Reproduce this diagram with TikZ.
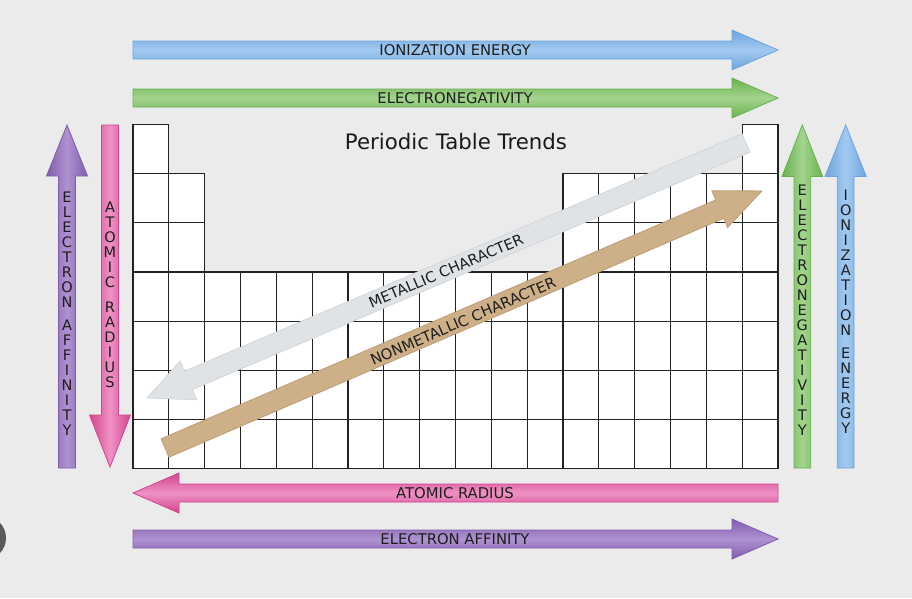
\documentclass[tikz,border=0pt]{standalone}
\usepackage{fontspec}
\setmainfont{DejaVu Sans}
\definecolor{bg}{HTML}{EBEBEB}
\definecolor{gridc}{HTML}{222222}
\definecolor{txt}{HTML}{1E1E1E}
\definecolor{bluelt}{HTML}{A2CAF0}
\definecolor{bluedk}{HTML}{6CA4DC}
\definecolor{greenlt}{HTML}{A4D48E}
\definecolor{greendk}{HTML}{68B24E}
\definecolor{pinklt}{HTML}{EE92C4}
\definecolor{pinkdk}{HTML}{D2448F}
\definecolor{purplt}{HTML}{AE92D0}
\definecolor{purpdk}{HTML}{815DAE}
\definecolor{metal}{HTML}{E0E3E6}
\definecolor{metaldk}{HTML}{D2D5D9}
\definecolor{tan}{HTML}{CDAF88}
\definecolor{tandk}{HTML}{BC9D74}
\begin{document}
\begin{tikzpicture}[x=1pt,y=-1pt,
  cell/.style={draw=gridc, fill=white, line width=1.1pt},
  lbl/.style={font=\fontsize{14.8}{17}\selectfont, text=txt, inner sep=0pt},
  vlbl/.style={font=\fontsize{14.5}{15}\selectfont, text=txt, inner sep=0pt, align=center, anchor=north},
  arr/.style={line width=0.8pt, line join=miter}]
\fill[bg] (0,0) rectangle (912,598);
\useasboundingbox (0,0) rectangle (912,598);
\fill[black!65] (-16,538) circle (22);
% grid
\def\cw{35.833}\def\rh{49.1}
\foreach \c in {0,...,17} \foreach \r in {3,...,6}
  \draw[cell] ({133+\cw*\c},{124.7+\rh*\r}) rectangle ++(\cw,\rh);
\foreach \c in {0,1,12,13,14,15,16,17} \foreach \r in {1,2}
  \draw[cell] ({133+\cw*\c},{124.7+\rh*\r}) rectangle ++(\cw,\rh);
\foreach \c in {0,17}
  \draw[cell] ({133+\cw*\c},124.7) rectangle ++(\cw,\rh);
% title
\node[font=\fontsize{21.3}{24}\selectfont, text=black!90, anchor=base, inner sep=0pt] (title) at (456,149) {Periodic Table Trends};
% horizontal arrows
\path[arr, draw=bluedk, top color=bluedk, bottom color=bluedk, middle color=bluelt]
  (133,41) -- (732,41) -- (732,30) -- (778,50) -- (732,70) -- (732,59) -- (133,59) -- cycle;
\node[lbl] (ie) at (455,50) {IONIZATION ENERGY};
\path[arr, draw=greendk, top color=greendk, bottom color=greendk, middle color=greenlt]
  (133,89) -- (732,89) -- (732,78) -- (778,98) -- (732,118) -- (732,107) -- (133,107) -- cycle;
\node[lbl] (en) at (455,98) {ELECTRONEGATIVITY};
\path[arr, draw=pinkdk, top color=pinkdk, bottom color=pinkdk, middle color=pinklt]
  (778,484) -- (179,484) -- (179,473) -- (133,493) -- (179,513) -- (179,502) -- (778,502) -- cycle;
\node[lbl] (ar) at (455,493) {ATOMIC RADIUS};
\path[arr, draw=purpdk, top color=purpdk, bottom color=purpdk, middle color=purplt]
  (133,530) -- (732,530) -- (732,519) -- (778,539) -- (732,559) -- (732,548) -- (133,548) -- cycle;
\node[lbl] (ea) at (455,539) {ELECTRON AFFINITY};
% vertical arrows
\path[arr, draw=purpdk, left color=purpdk, right color=purpdk, middle color=purplt]
  (58.5,468) -- (58.5,176) -- (46.5,176) -- (67,125) -- (87.5,176) -- (75.5,176) -- (75.5,468) -- cycle;
\node[vlbl] (vea) at (67,191.5) {E\\L\\E\\C\\T\\R\\O\\N\\[8pt]A\\F\\F\\I\\N\\I\\T\\Y};
\path[arr, draw=pinkdk, left color=pinkdk, right color=pinkdk, middle color=pinklt]
  (101.5,125) -- (101.5,415) -- (89.5,415) -- (110,467) -- (130.5,415) -- (118.5,415) -- (118.5,125) -- cycle;
\node[vlbl] (var) at (110,201.5) {A\\T\\O\\M\\I\\C\\[10pt]R\\A\\D\\I\\U\\S};
\path[arr, draw=greendk, left color=greendk, right color=greendk, middle color=greenlt]
  (794,468) -- (794,176.5) -- (782,176.5) -- (802.3,125) -- (822.7,176.5) -- (810.7,176.5) -- (810.7,468) -- cycle;
\node[vlbl] (ven) at (802.3,185) {E\\L\\E\\C\\T\\R\\O\\N\\E\\G\\A\\T\\I\\V\\I\\T\\Y};
\path[arr, draw=bluedk, left color=bluedk, right color=bluedk, middle color=bluelt]
  (837.3,468) -- (837.3,176.5) -- (825,176.5) -- (845.7,125) -- (866.3,176.5) -- (854,176.5) -- (854,468) -- cycle;
\node[vlbl] (vie) at (845.7,190) {I\\O\\N\\I\\Z\\A\\T\\I\\O\\N\\[8pt]E\\N\\E\\R\\G\\Y};
% diagonal arrows
\begin{scope}[shift={(746,143)}, rotate=203.06]
\path[arr, draw=metaldk, fill=metal]
  (0,-10) -- (606,-10) -- (606,-21) -- (651,0) -- (606,21) -- (606,10) -- (0,10) -- cycle;
\end{scope}
\node[lbl, rotate=23.06] (mc) at (446,271) {METALLIC CHARACTER};
\begin{scope}[shift={(165,448)}, rotate=23.3]
\path[arr, draw=tandk, fill=tan]
  (0,-10) -- (604,-10) -- (604,-20) -- (650,0) -- (604,20) -- (604,10) -- (0,10) -- cycle;
\end{scope}
\node[lbl, rotate=23.3] (nc) at (463,321) {NONMETALLIC CHARACTER};
\end{tikzpicture}
\end{document}
